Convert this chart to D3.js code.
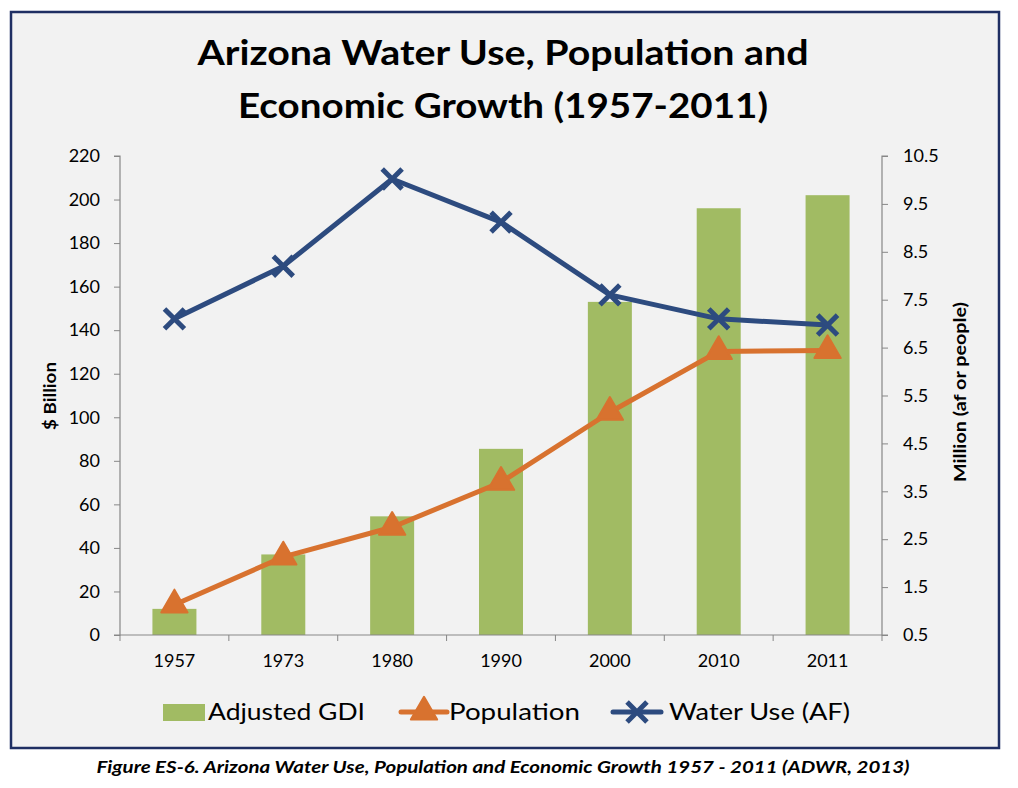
<!DOCTYPE html>
<html><head><meta charset="utf-8">
<script src="https://cdn.jsdelivr.net/npm/d3@7"></script>
<style>
html,body{margin:0;padding:0;background:#fff;}
svg{display:block;}
</style></head>
<body>
<svg id="c" width="1018" height="788"></svg>
<script>
const years = ["1957","1973","1980","1990","2000","2010","2011"];
const gdi = [12, 37, 54.5, 85.5, 153, 196, 202];
const population = [1.13, 2.13, 2.75, 3.69, 5.15, 6.42, 6.44];
const waterUse = [7.1, 8.2, 10.02, 9.12, 7.6, 7.1, 6.97];
const leftTicks = [0,20,40,60,80,100,120,140,160,180,200,220];
const rightTicks = [0.5,1.5,2.5,3.5,4.5,5.5,6.5,7.5,8.5,9.5,10.5];

const font = "Lato,'Open Sans',sans-serif";
const svg = d3.select("#c");
const axisCol = "#878787";
const green = "#a1bb63", orange = "#d8722f", blue = "#2d4b7f";

// background + border
svg.append("rect").attr("x",11).attr("y",12).attr("width",988).attr("height",736)
  .attr("fill","#f2f2f2").attr("stroke","#1f2f63").attr("stroke-width",2.5);

// title
const title = svg.append("text").attr("text-anchor","middle").attr("font-family",font)
  .attr("font-weight","bold").attr("font-size",35).attr("fill","#000");
title.append("tspan").attr("x",503).attr("y",65).attr("textLength",611).attr("lengthAdjust","spacingAndGlyphs")
  .text("Arizona Water Use, Population and");
title.append("tspan").attr("x",503).attr("y",118).attr("textLength",530).attr("lengthAdjust","spacingAndGlyphs")
  .text("Economic Growth (1957-2011)");

const L=120, R=882, T=156, B=635;
const xb = d3.scaleBand().domain(years).range([L,R]);
const yL = d3.scaleLinear().domain([0,220]).range([B,T]);
const yR = d3.scaleLinear().domain([0.5,10.5]).range([B,T]);

// bars
svg.append("g").selectAll("rect").data(years).join("rect")
  .attr("x",d=>xb(d)+xb.bandwidth()/2-22).attr("width",44)
  .attr("y",(d,i)=>yL(gdi[i])).attr("height",(d,i)=>B-yL(gdi[i]))
  .attr("fill",green);

// axes
const gl = svg.append("g").attr("transform",`translate(${L},0)`)
  .call(d3.axisLeft(yL).tickValues(leftTicks).tickSize(6).tickPadding(14));
const gr = svg.append("g").attr("transform",`translate(${R},0)`)
  .call(d3.axisRight(yR).tickValues(rightTicks).tickFormat(d3.format(".1f")).tickSize(6).tickPadding(15));
const gx = svg.append("g").attr("transform",`translate(0,${B})`)
  .call(d3.axisBottom(xb).tickSize(0).tickPadding(19));
// x tick marks at band boundaries
svg.append("g").selectAll("line").data(d3.range(years.length+1)).join("line")
  .attr("x1",i=>L+i*xb.bandwidth()).attr("x2",i=>L+i*xb.bandwidth())
  .attr("y1",B).attr("y2",B+6).attr("stroke",axisCol).attr("stroke-width",1);
[gl,gr,gx].forEach(g=>{
  g.selectAll("path").attr("stroke",axisCol).attr("stroke-width",1.2);
  g.selectAll("line").attr("stroke",axisCol);
  g.selectAll("text").attr("font-family",font).attr("font-size",18).attr("fill","#000");
});
gl.select(".domain").attr("d",`M-6,${T}H0V${B}H-6`);
gr.select(".domain").attr("d",`M6,${T}H0V${B}H6`);
gx.select(".domain").attr("d",`M${L},0H${R}`);

// axis titles
svg.append("text").attr("transform","translate(56,396) rotate(-90)").attr("text-anchor","middle")
  .attr("font-family",font).attr("font-weight","bold").attr("font-size",17)
  .attr("textLength",68).attr("lengthAdjust","spacingAndGlyphs").text("$ Billion");
svg.append("text").attr("transform","translate(966,392) rotate(-90)").attr("text-anchor","middle")
  .attr("font-family",font).attr("font-weight","bold").attr("font-size",17)
  .attr("textLength",180).attr("lengthAdjust","spacingAndGlyphs").text("Million (af or people)");

const cx = d => xb(d)+xb.bandwidth()/2;
// population line
const popLine = d3.line().x((d,i)=>cx(years[i])).y(d=>yR(d));
svg.append("path").datum(population).attr("d",popLine).attr("fill","none")
  .attr("stroke",orange).attr("stroke-width",5).attr("stroke-linejoin","round");
const tri = d3.symbol().type(d3.symbolTriangle).size(300);
svg.append("g").selectAll("path").data(population).join("path")
  .attr("transform",(d,i)=>`translate(${cx(years[i])},${yR(d)})`)
  .attr("d",tri).attr("fill",orange).attr("stroke",orange).attr("stroke-width",2).attr("stroke-linejoin","round");

// water line
const wLine = d3.line().x((d,i)=>cx(years[i])).y(d=>yR(d));
svg.append("path").datum(waterUse).attr("d",wLine).attr("fill","none")
  .attr("stroke",blue).attr("stroke-width",5).attr("stroke-linejoin","round");
const cross = d3.symbol().type(d3.symbolX).size(260);
svg.append("g").selectAll("path").data(waterUse).join("path")
  .attr("transform",(d,i)=>`translate(${cx(years[i])},${yR(d)})`)
  .attr("d",cross).attr("fill","none").attr("stroke",blue).attr("stroke-width",5);

// legend
const lg = svg.append("g").attr("font-family",font).attr("font-size",23).attr("fill","#000");
lg.append("rect").attr("x",163).attr("y",704).attr("width",42).attr("height",17).attr("fill",green);
lg.append("text").attr("x",208).attr("y",720).attr("textLength",157).attr("lengthAdjust","spacingAndGlyphs").text("Adjusted GDI");
lg.append("line").attr("x1",401).attr("x2",447).attr("y1",712).attr("y2",712).attr("stroke",orange).attr("stroke-width",5).attr("stroke-linecap","round");
lg.append("path").attr("transform","translate(424,712)").attr("d",tri).attr("fill",orange).attr("stroke",orange).attr("stroke-width",2).attr("stroke-linejoin","round");
lg.append("text").attr("x",449).attr("y",720).attr("textLength",131).attr("lengthAdjust","spacingAndGlyphs").text("Population");
lg.append("line").attr("x1",613).attr("x2",661).attr("y1",712).attr("y2",712).attr("stroke",blue).attr("stroke-width",5).attr("stroke-linecap","round");
lg.append("path").attr("transform","translate(637,712)").attr("d",cross).attr("fill","none").attr("stroke",blue).attr("stroke-width",5);
lg.append("text").attr("x",669).attr("y",720).attr("textLength",181).attr("lengthAdjust","spacingAndGlyphs").text("Water Use (AF)");

// caption
svg.append("text").attr("x",503).attr("y",773).attr("text-anchor","middle")
  .attr("font-family",font).attr("font-weight","bold").attr("font-style","italic").attr("font-size",17)
  .attr("textLength",813).attr("lengthAdjust","spacingAndGlyphs")
  .text("Figure ES-6. Arizona Water Use, Population and Economic Growth 1957 - 2011 (ADWR, 2013)");
</script>
</body></html>
